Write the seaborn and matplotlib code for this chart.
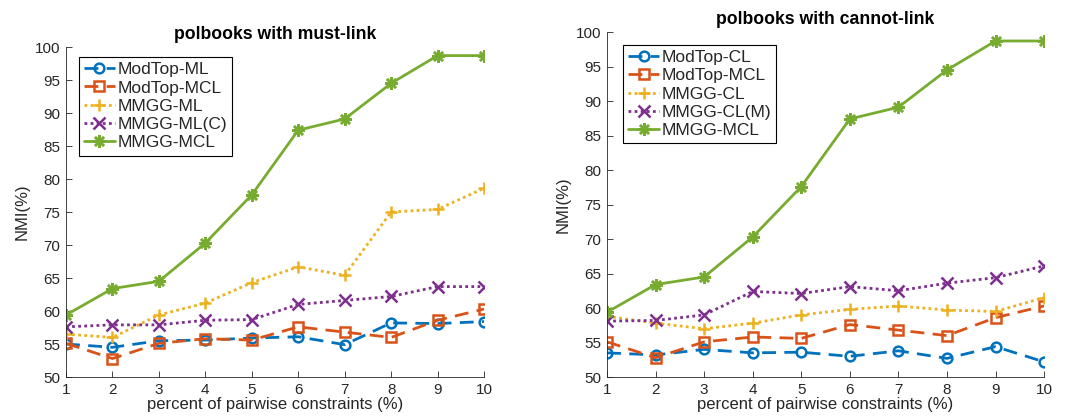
import matplotlib
matplotlib.use("Agg")
import matplotlib.pyplot as plt
import seaborn as sns
import numpy as np

# percent of pairwise constraints
pct = [1, 2, 3, 4, 5, 6, 7, 8, 9, 10]

# must-link experiments (NMI %)
modtop_ml = [55.0, 54.5, 55.5, 55.6, 55.9, 56.1, 54.9, 58.2, 58.1, 58.4]
modtop_mcl = [55.1, 52.8, 55.1, 55.8, 55.6, 57.6, 56.8, 56.0, 58.6, 60.3]
mmgg_ml = [56.5, 56.0, 59.4, 61.2, 64.3, 66.7, 65.4, 75.0, 75.4, 78.6]
mmgg_ml_c = [57.6, 57.9, 57.9, 58.6, 58.7, 61.0, 61.6, 62.2, 63.7, 63.7]
mmgg_mcl = [59.4, 63.4, 64.5, 70.3, 77.6, 87.4, 89.1, 94.5, 98.7, 98.7]

# cannot-link experiments (NMI %)
modtop_cl = [53.5, 53.2, 54.0, 53.5, 53.6, 53.0, 53.8, 52.7, 54.4, 52.2]
mmgg_cl = [58.8, 57.8, 57.0, 57.8, 59.0, 59.8, 60.3, 59.7, 59.5, 61.5]
mmgg_cl_m = [58.1, 58.2, 59.0, 62.4, 62.1, 63.1, 62.5, 63.6, 64.4, 66.1]

titles = ["polbooks with must-link", "polbooks with cannot-link"]
xlabel = "percent of pairwise constraints (%)"
ylabel = "NMI(%)"

BLUE = "#0072BD"
RED = "#D95319"
YELLOW = "#EDB120"
PURPLE = "#7E2F8E"
GREEN = "#77AC30"

DASH = (0, (5, 3))
DOT = (0, (1, 1.2))
ASTER = (8, 2, 0)

panels = [
    [("ModTop-ML", modtop_ml, BLUE, "o", DASH),
     ("ModTop-MCL", modtop_mcl, RED, "s", DASH),
     ("MMGG-ML", mmgg_ml, YELLOW, "+", DOT),
     ("MMGG-ML(C)", mmgg_ml_c, PURPLE, "x", DOT),
     ("MMGG-MCL", mmgg_mcl, GREEN, ASTER, "-")],
    [("ModTop-CL", modtop_cl, BLUE, "o", DASH),
     ("ModTop-MCL", modtop_mcl, RED, "s", DASH),
     ("MMGG-CL", mmgg_cl, YELLOW, "+", DOT),
     ("MMGG-CL(M)", mmgg_cl_m, PURPLE, "x", DOT),
     ("MMGG-MCL", mmgg_mcl, GREEN, ASTER, "-")],
]

sns.set_theme(style="ticks")
plt.rcParams["font.family"] = ["Liberation Sans", "DejaVu Sans"]
AX_COLOR = "#262626"

fig = plt.figure(figsize=(10.68, 4.19), dpi=100)
axes = [fig.add_axes([0.0618, 0.1002, 0.3914, 0.7876]),
        fig.add_axes([0.5684, 0.1002, 0.4092, 0.8234])]
legend_anchor = [(0.031, 0.97), (0.037, 0.963)]

for ax, series, title, anchor in zip(axes, panels, titles, legend_anchor):
    for name, vals, color, marker, ls in series:
        msize = 7 if marker in ("o", "s") else 9
        sns.lineplot(x=pct, y=vals, ax=ax, color=color, marker=marker,
                     linestyle=ls, linewidth=2.0, markersize=msize,
                     markerfacecolor="none", markeredgecolor="auto",
                     markeredgewidth=1.8, label=name)
    ax.set_xlim(1, 10)
    ax.set_ylim(50, 100)
    ax.set_xticks(pct)
    ax.set_yticks(np.arange(50, 101, 5))
    ax.tick_params(direction="in", length=4, width=0.6, colors=AX_COLOR,
                   labelsize=11, pad=4)
    for side in ("top", "right"):
        ax.spines[side].set_visible(False)
    for side in ("left", "bottom"):
        ax.spines[side].set_color(AX_COLOR)
        ax.spines[side].set_linewidth(0.6)
    ax.set_xlabel(xlabel, fontsize=12, color=AX_COLOR, labelpad=0)
    ax.set_ylabel(ylabel, fontsize=12, color=AX_COLOR, labelpad=4)
    ax.set_title(title, fontsize=12.7, fontweight="bold", color="black", pad=6)
    leg = ax.legend(loc="upper left", bbox_to_anchor=anchor,
                    fontsize=12.5, frameon=True, fancybox=False,
                    framealpha=1, edgecolor="black", handlelength=1.75,
                    handletextpad=0.15, borderpad=0.3, labelspacing=0.18,
                    borderaxespad=0.0)
    leg.get_frame().set_linewidth(0.8)

fig.savefig("out.png", dpi=100)
